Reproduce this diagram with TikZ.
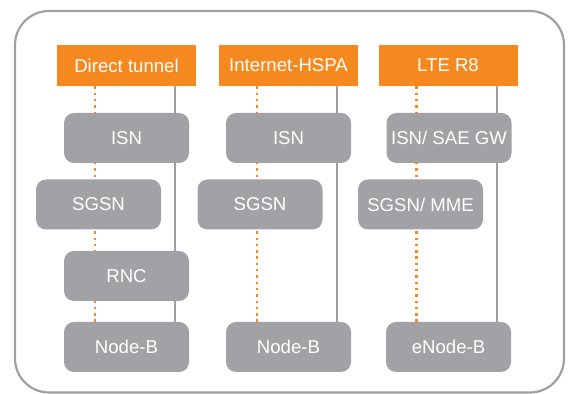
\documentclass[tikz,border=0pt]{standalone}
\usepackage{fontspec}
\setmainfont{Liberation Sans}
\usetikzlibrary{positioning,backgrounds}
\definecolor{HeadOrange}{RGB}{245,137,32}
\definecolor{BoxGrey}{RGB}{162,161,165}
\definecolor{FrameGrey}{RGB}{160,160,163}

\begin{document}
\begin{tikzpicture}[x=0.5pt,y=0.5pt,
    head/.style={fill=HeadOrange,text=white,minimum width=69.5pt,minimum height=20.5pt,inner sep=0pt,font=\fontsize{9.3}{11}\selectfont},
    elem/.style={fill=BoxGrey,text=white,rounded corners=5pt,minimum width=62.5pt,minimum height=25pt,inner sep=0pt,font=\fontsize{9.3}{11}\selectfont},
    rail/.style={draw=FrameGrey,line width=1pt},
    tunnel/.style={draw=HeadOrange,line width=1.3pt,dash pattern=on 1.2pt off 1.95pt}]
          \useasboundingbox (0,0) rectangle (571,394);
          \draw[FrameGrey,line width=1.1pt,rounded corners=17pt] (15,1.5) rectangle (564,383);
          % column headers
          \node[head] (dt) at (126.5,328.5) {Direct tunnel};
          \node[head] (ih) at (288.5,328.5) {Internet-HSPA};
          \node[head] (lte) at (448,328.5) {LTE R8};
          % direct tunnel
          \node[elem] (isn1) at (126.5,256) {ISN};
          \node[elem] (sgsn1) at (98.5,189.5) {SGSN};
          \node[elem] (rnc1) at (126.5,118) {RNC};
          \node[elem] (nb1) at (126.5,47) {Node-B};
          % internet-hspa
          \node[elem] (isn2) at (288.5,256) {ISN};
          \node[elem] (sgsn2) at (260,189.5) {SGSN};
          \node[elem] (nb2) at (288.5,47) {Node-B};
          % lte r8
          \node[elem] (isn3) at (449,256) {ISN/ SAE GW};
          \node[elem] (sgsn3) at (420.5,189.5) {SGSN/ MME};
          \node[elem] (nb3) at (448.5,47) {eNode-B};
          \begin{scope}[on background layer]
            \foreach \h/\b in {dt/nb1,ih/nb2,lte/nb3} {
              \draw[tunnel] ([xshift=-15.75pt]\h.south) -- ([xshift=-15.75pt]\h.south |- \b.north);
              \draw[rail] ([xshift=24.25pt]\h.south) -- ([xshift=24.25pt]\h.south |- \b.north);
            }
          \end{scope}
        \end{tikzpicture}
\end{document}
